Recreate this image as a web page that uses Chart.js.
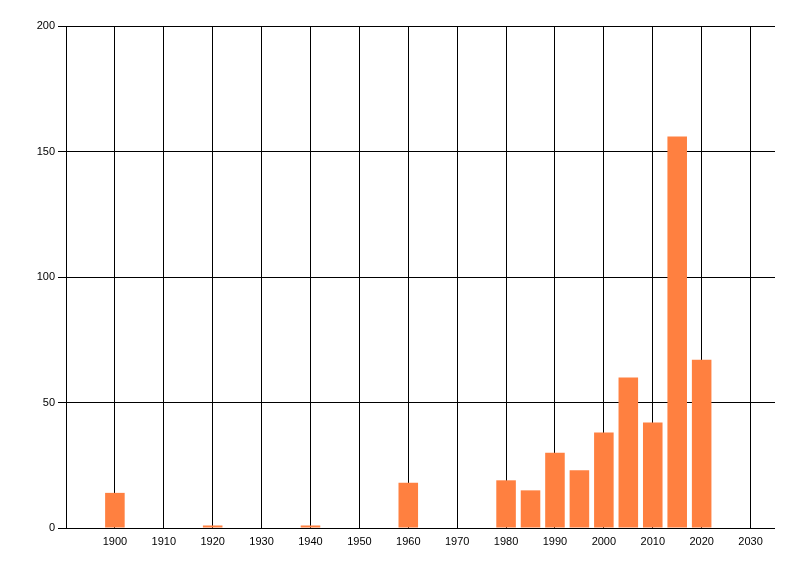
<!DOCTYPE html>
<html>
<head>
<meta charset="utf-8">
<script src="https://cdn.jsdelivr.net/npm/chart.js@4"></script>
<style>
  html, body { margin: 0; padding: 0; background: #fff; }
  #chart { display: block; }
</style>
</head>
<body>
<canvas id="chart" width="800" height="576"></canvas>
<script>
// Year of each bar and its count
const years  = [1900, 1920, 1940, 1960, 1980, 1985, 1990, 1995, 2000, 2005, 2010, 2015, 2020];
const counts = [14, 1, 1, 18, 19, 15, 30, 23, 38, 60, 42, 156, 67];
const xTicks = [1900, 1910, 1920, 1930, 1940, 1950, 1960, 1970, 1980, 1990, 2000, 2010, 2020, 2030];
const yTicks = [0, 50, 100, 150, 200];

const BAR_COLOR = '#ff8040';
const tickFont = { family: 'Liberation Sans, Arial, sans-serif', size: 11 };

new Chart(document.getElementById('chart'), {
  type: 'bar',
  data: {
    datasets: [{
      data: years.map((x, i) => ({ x, y: counts[i] })),
      backgroundColor: BAR_COLOR,
      borderWidth: 0,
      barPercentage: 0.8,
      categoryPercentage: 1,
    }],
  },
  options: {
    responsive: false,
    animation: false,
    devicePixelRatio: 1,
    layout: { padding: { left: 0, top: 26, right: 25, bottom: 0 } },
    plugins: { legend: { display: false }, tooltip: { enabled: false } },
    scales: {
      x: {
        type: 'linear',
        offset: false,
        min: 1890,
        max: 2035,
        afterBuildTicks: scale => { scale.ticks = xTicks.map(v => ({ value: v })); },
        afterFit: scale => { scale.height = 48; },
        grid: { color: '#000', lineWidth: 1, drawTicks: false, offset: false },
        // the x border adds an edge line on the right; the 0 grid line is the axis instead
        border: { display: false },
        ticks: {
          color: '#000', font: tickFont, padding: 7, maxRotation: 0, autoSkip: false,
          callback: v => String(v),
        },
      },
      y: {
        min: 0,
        max: 200,
        afterBuildTicks: scale => { scale.ticks = yTicks.map(v => ({ value: v })); },
        afterFit: scale => { scale.width = 66; },
        grid: { color: '#000', lineWidth: 1, drawTicks: true, tickLength: 8 },
        border: { display: true, color: '#000', width: 1 },
        ticks: { color: '#000', font: tickFont, padding: 3 },
      },
    },
  },
});
</script>
</body>
</html>
